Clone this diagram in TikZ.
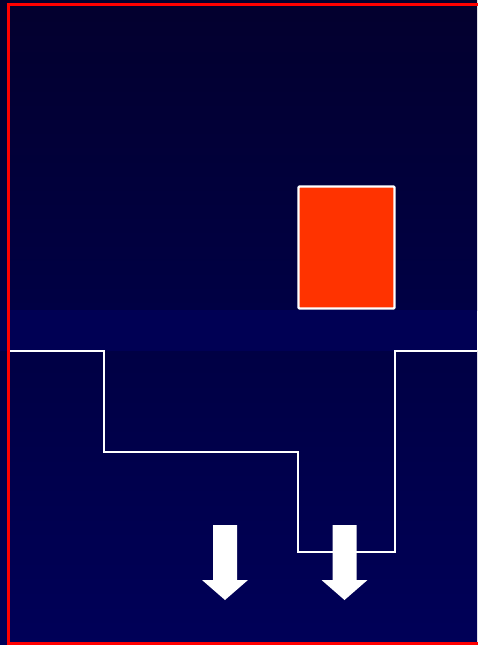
\documentclass[tikz,border=0pt]{standalone}
\usetikzlibrary{positioning}

\definecolor{skytop}{RGB}{3,0,46}
\definecolor{skylow}{RGB}{0,0,68}
\definecolor{bandblue}{RGB}{0,0,84}
\definecolor{deeptop}{RGB}{0,0,68}
\definecolor{deeplow}{RGB}{0,0,88}
\definecolor{blockred}{RGB}{255,51,0}

\tikzset{
  frame/.style={draw=red, line width=2.4pt},
  profile/.style={draw=white, line width=2.4pt, line join=miter},
  blockbox/.style={draw=white, line width=2.4pt, fill=blockred, rounded corners=1pt,
    inner sep=0pt, minimum width=96pt, minimum height=122pt},
  droparrow/.style={fill=white, draw=none}
}

\begin{document}
\begin{tikzpicture}[x=1pt, y=-1pt]
      \useasboundingbox (0,0) rectangle (477,645);

      % background layers
      \shade[top color=skytop, bottom color=skylow] (0,0) rectangle (477,310);
      \fill[bandblue] (0,310) rectangle (477,351);
      \shade[top color=deeptop, bottom color=deeplow] (0,351) rectangle (477,645);

      \draw[frame] (8.5,4.5) rectangle (490,643.5);

      % the block
      \node[blockbox] (block) at (346.5,247.5) {};

      % stepped floor
      \coordinate (westend) at (10,351);
      \coordinate (eastend) at (477,351);
      \draw[profile] (westend) -- (104,351) -- (104,452) -- (298,452)
        -- (298,552) -- (395,552) -- (395,351) -- (eastend);

      % arrows
      \foreach \cx/\name in {225/dropa, 344.5/dropb} {
        \coordinate (\name) at (\cx,600);
        \fill[droparrow] (\cx-12,525) -- (\cx+12,525) -- (\cx+12,580) -- (\cx+23,580)
          -- (\name) -- (\cx-23,580) -- (\cx-12,580) -- cycle;
      }
\end{tikzpicture}
\end{document}
